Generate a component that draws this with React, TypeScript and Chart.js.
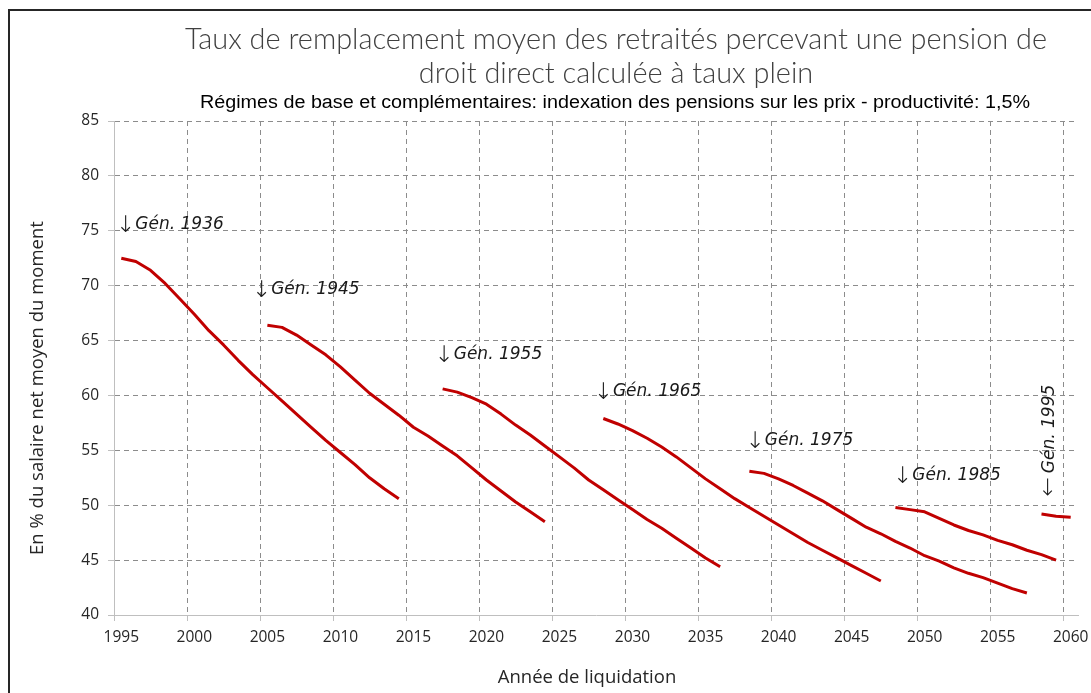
import React, { useEffect, useRef } from 'react';
import { Chart, registerables } from 'chart.js';

Chart.register(...registerables);

const TITLE_LINES = [
  'Taux de remplacement moyen des retraités percevant une pension de',
  'droit direct calculée à taux plein',
];
const SUBTITLE =
  'Régimes de base et complémentaires: indexation des pensions sur les prix - productivité: 1,5%';
const X_TITLE = 'Année de liquidation';
const Y_TITLE = 'En % du salaire net moyen du moment';

const X_TICK_LABELS = ['1995', '2000', '2005', '2010', '2015', '2020', '2025', '2030', '2035', '2040', '2045', '2050', '2055', '2060'];
const Y_MIN = 40;
const Y_MAX = 85;
const Y_STEP = 5;

const GENERATIONS = ['Gén. 1936', 'Gén. 1945', 'Gén. 1955', 'Gén. 1965', 'Gén. 1975', 'Gén. 1985', 'Gén. 1995'];
const START_YEARS = [1995, 2005, 2017, 2028, 2038, 2048, 2058];

const gen1936 = [72.5, 72.2, 71.4, 70.2, 68.8, 67.4, 65.9, 64.6, 63.2, 61.9, 60.7, 59.5, 58.3, 57.1, 55.9, 54.8, 53.7, 52.5, 51.5, 50.6];
const gen1945 = [66.4, 66.2, 65.5, 64.6, 63.7, 62.6, 61.4, 60.2, 59.2, 58.2, 57.1, 56.3, 55.4, 54.5, 53.4, 52.3, 51.3, 50.3, 49.4, 48.5];
const gen1955 = [60.6, 60.3, 59.8, 59.2, 58.3, 57.3, 56.4, 55.4, 54.4, 53.4, 52.3, 51.4, 50.5, 49.6, 48.7, 47.9, 47.0, 46.1, 45.2, 44.4];
const gen1965 = [57.9, 57.4, 56.8, 56.1, 55.3, 54.4, 53.4, 52.4, 51.5, 50.6, 49.8, 49.0, 48.2, 47.4, 46.6, 45.9, 45.2, 44.5, 43.8, 43.1];
const gen1975 = [53.1, 52.9, 52.4, 51.8, 51.1, 50.4, 49.6, 48.8, 48.0, 47.4, 46.7, 46.1, 45.4, 44.9, 44.3, 43.8, 43.4, 42.9, 42.4, 42.0];
const gen1985 = [49.8, 49.6, 49.4, 48.8, 48.2, 47.7, 47.3, 46.8, 46.4, 45.9, 45.5, 45.0];
const gen1995 = [49.2, 49.0, 48.9];
const SERIES = [gen1936, gen1945, gen1955, gen1965, gen1975, gen1985, gen1995];

// label anchors, in data units (where each arrow points)
const ANNOT_X = [1995.3, 2004.6, 2017.1, 2028.0, 2038.4, 2048.5, 2058.85];
const ANNOT_Y = [75.0, 69.1, 63.1, 59.8, 55.3, 52.1, 50.8];

const LINE_COLOR = '#C00000';
const ARROW_FONT = '200 23px "DejaVu Sans"';
const LABEL_FONT = 'italic 17px "DejaVu Sans"';

function fitText(ctx: CanvasRenderingContext2D, text: string, cx: number, y: number, target: number) {
  const w = ctx.measureText(text).width;
  const s = target / w;
  ctx.save();
  ctx.translate(cx, y);
  ctx.scale(s, 1);
  ctx.textAlign = 'center';
  ctx.fillText(text, 0, 0);
  ctx.restore();
  return s;
}

const decorPlugin = {
  id: 'decor',
  afterDraw(chart: any) {
    const ctx: CanvasRenderingContext2D = chart.ctx;
    const xs = chart.scales.x;
    const ys = chart.scales.y;
    ctx.save();
    // frame
    ctx.strokeStyle = '#262626';
    ctx.lineWidth = 2;
    ctx.beginPath();
    ctx.moveTo(9, 693);
    ctx.lineTo(9, 10);
    ctx.lineTo(1091, 10);
    ctx.stroke();

    // title
    ctx.fillStyle = '#404040';
    ctx.textBaseline = 'alphabetic';
    ctx.font = '300 29px Lato';
    const w1 = ctx.measureText(TITLE_LINES[0]).width;
    const s = 862 / w1;
    [TITLE_LINES[0], TITLE_LINES[1]].forEach((t, i) => {
      ctx.save();
      ctx.translate(616, i === 0 ? 49 : 83);
      ctx.scale(s, 1);
      ctx.textAlign = 'center';
      ctx.fillText(t, 0, 0);
      ctx.restore();
    });
    // subtitle
    ctx.fillStyle = '#000';
    ctx.font = '18px "Liberation Sans"';
    fitText(ctx, SUBTITLE, 615, 108, 830);

    // axis titles
    ctx.fillStyle = '#262626';
    ctx.font = '18.5px "Open Sans"';
    ctx.textAlign = 'center';
    ctx.textBaseline = 'middle';
    ctx.fillText(X_TITLE, 587, 678);
    ctx.save();
    ctx.translate(38, 388);
    ctx.rotate(-Math.PI / 2);
    ctx.fillText(Y_TITLE, 0, 0);
    ctx.restore();

    // generation labels
    ctx.fillStyle = '#1a1a1a';
    ctx.textBaseline = 'alphabetic';
    for (let i = 0; i < GENERATIONS.length; i++) {
      const px = xs.getPixelForValue(ANNOT_X[i]);
      const py = ys.getPixelForValue(ANNOT_Y[i]);
      ctx.font = ARROW_FONT;
      const aw = ctx.measureText('↓').width;
      if (i < GENERATIONS.length - 1) {
        ctx.textAlign = 'left';
        ctx.fillText('↓', px - aw / 2, py + 1);
        ctx.font = LABEL_FONT;
        ctx.fillText(GENERATIONS[i], px + aw / 2, py - 2);
      } else {
        ctx.save();
        ctx.translate(px, py);
        ctx.rotate(-Math.PI / 2);
        ctx.textAlign = 'left';
        ctx.fillText('←', 0, 1);
        ctx.font = LABEL_FONT;
        ctx.fillText(GENERATIONS[i], aw + 4, 0);
        ctx.restore();
      }
    }
    ctx.restore();
  },
};

export default function App() {
  const ref = useRef<HTMLCanvasElement | null>(null);
  useEffect(() => {
    if (!ref.current) return;
    const datasets = SERIES.map((vals, i) => ({
      label: GENERATIONS[i],
      data: vals.map((v, j) => ({ x: START_YEARS[i] + j, y: v })),
      borderColor: LINE_COLOR,
      backgroundColor: LINE_COLOR,
      borderWidth: 3,
      pointRadius: 0,
      fill: false,
      tension: 0,
      borderJoinStyle: 'round' as const,
    }));
    const yTicks: number[] = [];
    for (let v = Y_MIN; v <= Y_MAX; v += Y_STEP) yTicks.push(v);
    const chart = new Chart(ref.current, {
      type: 'line',
      data: { datasets },
      options: {
        responsive: false,
        animation: false,
        layout: { padding: { top: 121, right: 13, left: 0, bottom: 0 } },
        plugins: {
          legend: { display: false },
          title: { display: false },
          tooltip: { enabled: false },
        },
        scales: {
          x: {
            type: 'linear',
            min: 1994.5,
            max: 2060.5,
            afterBuildTicks: (s: any) => {
              s.ticks = X_TICK_LABELS.map((l) => ({ value: Number(l) - 0.5 }));
            },
            afterFit: (s: any) => {
              s.height = 78;
            },
            ticks: {
              autoSkip: false,
              maxRotation: 0,
              labelOffset: 7.3,
              padding: 7,
              color: '#262626',
              font: { family: 'Open Sans', size: 15.5 },
              callback: (_v: any, i: number) => X_TICK_LABELS[i],
            },
            grid: {
              color: (c: any) => (c.index === 0 ? 'rgba(0,0,0,0)' : '#8c8c8c'),
              tickColor: '#bfbfbf',
              tickLength: 6,
              lineWidth: 1,
            },
            border: { display: true, color: '#bfbfbf', width: 1, dash: [5, 4] },
          },
          y: {
            type: 'linear',
            min: Y_MIN,
            max: Y_MAX,
            afterBuildTicks: (s: any) => {
              s.ticks = yTicks.map((v) => ({ value: v }));
            },
            afterFit: (s: any) => {
              s.width = 114;
            },
            ticks: {
              padding: 9,
              color: '#262626',
              font: { family: 'Open Sans', size: 15.5 },
            },
            grid: {
              color: (c: any) => (c.tick && c.tick.value === Y_MIN ? 'rgba(0,0,0,0)' : '#8c8c8c'),
              tickColor: '#bfbfbf',
              tickLength: 6,
              lineWidth: 1,
            },
            border: { display: true, color: '#bfbfbf', width: 1, dash: [5, 4] },
          },
        },
      } as any,
      plugins: [decorPlugin],
    });
    return () => chart.destroy();
  }, []);
  return (
    <div style={{ position: 'fixed', left: 0, top: 0, width: 1091, height: 693, background: '#fff' }}>
      <canvas ref={ref} width={1091} height={693} style={{ display: 'block' }} />
    </div>
  );
}
